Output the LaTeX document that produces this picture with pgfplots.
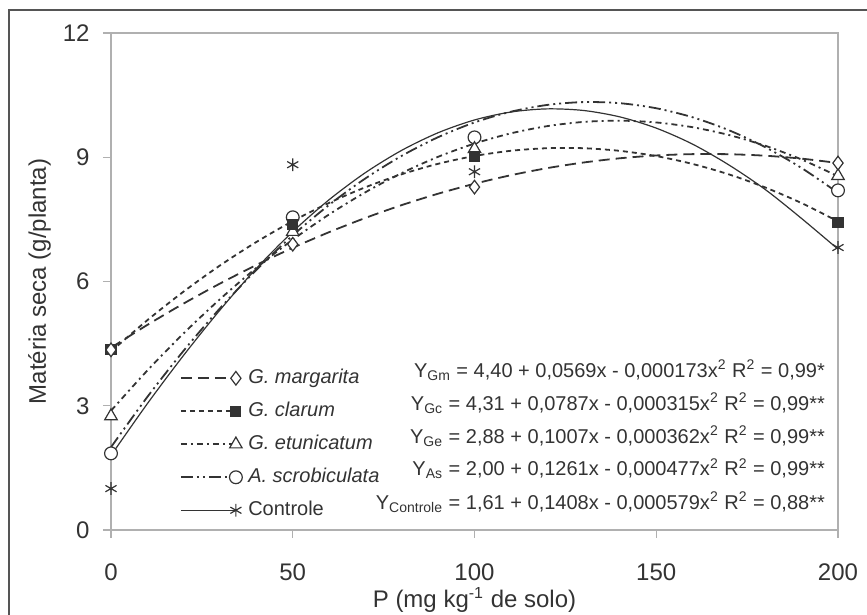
\documentclass[border=0pt]{standalone}
\usepackage{pgfplots}
\pgfplotsset{compat=1.18}
\usepackage{pgfplotstable}
\usepackage{fontspec}
\setmainfont{Liberation Sans}

\definecolor{ink}{HTML}{333333}
\definecolor{axisgray}{HTML}{B0B0B0}
\definecolor{framegray}{HTML}{555555}

% fitted curves
\pgfplotstableread{
x   gm    gc    ge    as     ct
0   4.400 4.310 2.880 2.000  1.800
10  4.952 5.066 3.851 3.213  3.050
20  5.469 5.758 4.749 4.331  4.220
30  5.951 6.388 5.575 5.354  5.313
40  6.399 6.954 6.329 6.281  6.316
50  6.813 7.458 7.010 7.113  7.203
60  7.191 7.898 7.619 7.849  7.974
70  7.535 8.276 8.155 8.490  8.629
80  7.845 8.590 8.619 9.035  9.168
90  8.120 8.842 9.011 9.485  9.592
100 8.360 9.030 9.330 9.840  9.900
110 8.566 9.156 9.577 10.099 10.092
120 8.737 9.218 9.751 10.263 10.168
130 8.873 9.218 9.853 10.332 10.129
140 8.975 9.154 9.883 10.305 9.974
150 9.043 9.028 9.840 10.183 9.703
160 9.075 8.838 9.725 9.965  9.316
170 9.073 8.586 9.537 9.652  8.813
180 9.037 8.270 9.277 9.243  8.220
190 8.966 7.892 8.945 8.739  7.520
200 8.860 7.450 8.540 8.140  6.780
}\fits

% observed means
\pgfplotstableread{
x   gm   gc   ge   as   ct
0   4.35 4.35 2.75 1.85 1.00
50  6.90 7.38 7.20 7.55 8.82
100 8.28 9.02 9.20 9.48 8.65
200 8.86 7.43 8.55 8.20 6.82
}\obs

\pgfplotsset{
  gmline/.style={ink, line width=0.9pt, dash pattern=on 5.5pt off 3pt},
  gcline/.style={ink, line width=0.9pt, dash pattern=on 2.5pt off 2pt},
  geline/.style={ink, line width=0.9pt, dash pattern=on 3pt off 2pt on 1pt off 2pt},
  asline/.style={ink, line width=0.9pt, dash pattern=on 6pt off 2pt on 1pt off 2pt on 1pt off 2pt},
  ctline/.style={ink, line width=0.6pt, solid},
  gmmark/.style={mark=diamond*, mark size=3.4pt, mark options={solid, fill=white, draw=ink, line width=0.6pt}},
  gcmark/.style={mark=square*, mark size=2.5pt, mark options={solid, fill=ink, draw=ink, line width=0.6pt}},
  gemark/.style={mark=triangle*, mark size=3.6pt, mark options={solid, fill=white, draw=ink, line width=0.6pt}},
  asmark/.style={mark=*, mark size=3.2pt, mark options={solid, fill=white, draw=ink, line width=0.6pt}},
  ctmark/.style={mark=asterisk, mark size=3.2pt, mark options={solid, draw=ink, line width=0.6pt}},
}

\begin{document}
\begin{tikzpicture}
\begin{axis}[
  scale only axis,
  width=363.5pt, height=248.5pt,
  xmin=0, xmax=200, ymin=0, ymax=12,
  xtick={0,50,100,150,200},
  ytick={0,3,6,9,12},
  xtick pos=lower, ytick pos=left,
  tick align=outside,
  major tick length=4pt,
  axis line style={axisgray, line width=0.7pt},
  tick style={axisgray, line width=0.7pt},
  /pgf/number format/assume math mode=true,
  tick label style={font=\fontsize{12}{14}\selectfont, text=ink},
  yticklabel style={inner sep=0pt, xshift=-6.5pt},
  xticklabel style={inner sep=0pt, yshift=-12.5pt},
  xlabel={P (mg kg\textsuperscript{-1} de solo)},
  ylabel={Matéria seca (g/planta)},
  every axis x label/.style={at={(rel axis cs:0.5,0)}, anchor=base, yshift=-38.5pt,
    font=\fontsize{12}{14}\selectfont, text=ink},
  every axis y label/.style={at={(rel axis cs:0,0.5)}, xshift=-32.5pt, rotate=90, anchor=base,
    font=\fontsize{12}{14}\selectfont, text=ink},
  clip=false,
  legend cell align=left,
  legend image code/.code={\draw[mark repeat=2, mark phase=2, #1] plot coordinates {(0pt,0pt) (27.5pt,0pt)};},
  legend style={at={(axis cs:18.98,2.07)}, anchor=west, draw=none, fill=none,
    inner sep=0pt, outer sep=0pt, font=\fontsize{10}{12}\selectfont, text=ink,
    row sep=6.5pt, column sep=3pt,
    nodes={inner sep=0pt, text height=7.5pt, text depth=2.5pt}},
]
\addplot[gmline, no markers, smooth, forget plot] table[x=x, y=gm] {\fits};
\addplot[gcline, no markers, smooth, forget plot] table[x=x, y=gc] {\fits};
\addplot[geline, no markers, smooth, forget plot] table[x=x, y=ge] {\fits};
\addplot[asline, no markers, smooth, forget plot] table[x=x, y=as] {\fits};
\addplot[ctline, no markers, smooth, forget plot] table[x=x, y=ct] {\fits};

\addplot[only marks, ctmark, forget plot] table[x=x, y=ct] {\obs};
\addplot[only marks, asmark, forget plot] table[x=x, y=as] {\obs};
\addplot[only marks, gemark, forget plot] table[x=x, y=ge] {\obs};
\addplot[only marks, gcmark, forget plot] table[x=x, y=gc] {\obs};
\addplot[only marks, gmmark, forget plot] table[x=x, y=gm] {\obs};

\addlegendimage{gmline, gmmark}
\addlegendentry{\textit{G. margarita}}
\addlegendimage{gcline, gcmark}
\addlegendentry{\textit{G. clarum}}
\addlegendimage{geline, gemark}
\addlegendentry{\textit{G. etunicatum}}
\addlegendimage{asline, asmark}
\addlegendentry{\textit{A. scrobiculata}}
\addlegendimage{ctline, ctmark}
\addlegendentry{Controle}

\begin{scope}[every node/.style={anchor=base east, font=\fontsize{10}{12}\selectfont, text=ink, inner sep=0pt}]
\node at (axis cs:196.5,3.694) {Y\textsubscript{Gm} = 4,40 + 0,0569x - 0,000173x\textsuperscript{2} R\textsuperscript{2} = 0,99*};
\node at (axis cs:196.5,2.897) {Y\textsubscript{Gc} = 4,31 + 0,0787x - 0,000315x\textsuperscript{2} R\textsuperscript{2} = 0,99**};
\node at (axis cs:196.5,2.100) {Y\textsubscript{Ge} = 2,88 + 0,1007x - 0,000362x\textsuperscript{2} R\textsuperscript{2} = 0,99**};
\node at (axis cs:196.5,1.304) {Y\textsubscript{As} = 2,00 + 0,1261x - 0,000477x\textsuperscript{2} R\textsuperscript{2} = 0,99**};
\node at (axis cs:196.5,0.507) {Y\textsubscript{Controle} = 1,61 + 0,1408x - 0,000579x\textsuperscript{2} R\textsuperscript{2} = 0,88**};
\end{scope}

\coordinate (O) at (rel axis cs:0,0);
\end{axis}
\pgfresetboundingbox
\path[use as bounding box] ([shift={(-55.5pt,-42.5pt)}]O) rectangle ([shift={(378pt,265pt)}]O);
\draw[framegray, line width=1pt] ([shift={(-51pt,-42.5pt)}]O) -- ([shift={(-51pt,260pt)}]O) -- ([shift={(378pt,260pt)}]O);
\end{tikzpicture}
\end{document}
